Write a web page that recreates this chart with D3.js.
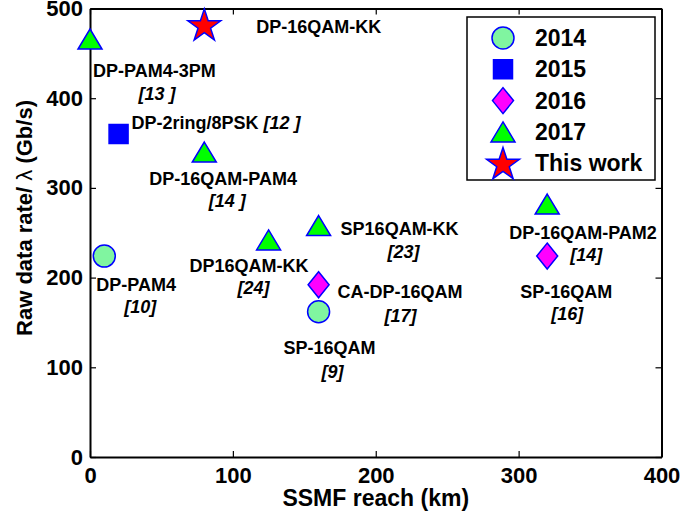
<!DOCTYPE html>
<html>
<head>
<meta charset="utf-8">
<script src="https://cdn.jsdelivr.net/npm/d3@7"></script>
<style>
  body { margin: 0; background: #fff; }
  svg text { font-family: "Liberation Sans", Arial, sans-serif; font-weight: bold; fill: #000; }
</style>
</head>
<body>
<div id="chart"></div>
<script>
// data
const years = ['2014', '2015', '2016', '2017', 'This work'];
const reach = [80, 0, 20, 80, 125, 10, 160, 320, 320, 160, 160];
const rate = [482, 466, 360, 340, 242, 224, 258, 282, 224, 192, 162];
const group = ['This work', '2017', '2015', '2017', '2017', '2014', '2017', '2017', '2016', '2016', '2014'];
const names = ['DP-16QAM-KK', 'DP-PAM4-3PM', 'DP-2ring/8PSK', 'DP-16QAM-PAM4', 'DP16QAM-KK', 'DP-PAM4',
  'SP16QAM-KK', 'DP-16QAM-PAM2', 'SP-16QAM', 'CA-DP-16QAM', 'SP-16QAM'];
const refs = ['', '[13 ]', '[12 ]', '[14 ]', '[24]', '[10]', '[23]', '[14]', '[16]', '[17]', '[9]'];
const xTicks = [0, 100, 200, 300, 400];
const yTicks = [0, 100, 200, 300, 400, 500];

// label placement (pixel offsets from the marker): name start, ref centre
const labelPos = [
  { nx: 52, ny: 8 },
  { nx: 3, ny: 38, rx: 67, ry: 61 },
  { nx: 13, ny: -5, inline: true },
  { nx: -55, ny: 33, rx: 23, ry: 55 },
  { nx: -79, ny: 32, rx: -15, ry: 54 },
  { nx: -8, ny: 35, rx: 36, ry: 57 },
  { nx: 22, ny: 9.5, rx: 85, ry: 32 },
  { nx: -38, ny: 35, rx: 39, ry: 57 },
  { nx: -27, ny: 42, rx: 20, ry: 64 },
  { nx: 19, ny: 13, rx: 82, ry: 37 },
  { nx: -35, ny: 42, rx: 14, ry: 66 }
];

const width = 681, height = 523;
const blue = '#0000ff';
const fills = { '2014': '#80f5a0', '2015': '#0000ff', '2016': '#ff00ff', '2017': '#00ff00', 'This work': '#ff0000' };

const svg = d3.select('#chart').append('svg')
  .attr('width', width)
  .attr('height', height);

const x = d3.scaleLinear().domain([0, 400]).range([90, 661.5]);
const y = d3.scaleLinear().domain([0, 500]).range([457, 8.5]);

function markerPath(kind) {
  if (kind === '2014') {
    const r = 11;
    return `M${r},0A${r},${r},0,1,1,${-r},0A${r},${r},0,1,1,${r},0Z`;
  }
  if (kind === '2015') return 'M-9.5,-9.5H9.5V9.5H-9.5Z';
  if (kind === '2016') return 'M0,-13L10.5,0L0,13L-10.5,0Z';
  if (kind === '2017') return 'M0,-10L12,10L-12,10Z';
  // star
  const R = 17.3, r = R * 0.382;
  const pts = d3.range(10).map(i => {
    const a = -Math.PI / 2 + i * Math.PI / 5;
    const rr = i % 2 ? r : R;
    return [rr * Math.cos(a), rr * Math.sin(a) + 1.5];
  });
  return 'M' + pts.map(p => p.join(',')).join('L') + 'Z';
}

// axes, MATLAB style box with inward ticks
const axisStyle = g => {
  g.select('.domain').attr('stroke-width', 2);
  g.selectAll('.tick line').attr('stroke-width', 1.2);
  g.selectAll('.tick text').style('font-size', '22px');
};

svg.append('g')
  .attr('transform', `translate(0,${y(0)})`)
  .call(d3.axisBottom(x).tickValues(xTicks).tickSize(-6).tickSizeOuter(0).tickPadding(10))
  .call(axisStyle);

svg.append('g')
  .attr('transform', `translate(${x(0)},0)`)
  .call(d3.axisLeft(y).tickValues(yTicks).tickSize(-6).tickSizeOuter(0).tickPadding(7))
  .call(axisStyle);

svg.append('g')
  .attr('transform', `translate(0,${y(500)})`)
  .call(d3.axisTop(x).tickValues(xTicks).tickSize(-6).tickSizeOuter(0).tickFormat(''))
  .call(axisStyle);

svg.append('g')
  .attr('transform', `translate(${x(400)},0)`)
  .call(d3.axisRight(y).tickValues(yTicks).tickSize(-6).tickSizeOuter(0).tickFormat(''))
  .call(axisStyle);

svg.selectAll('.domain').attr('stroke', '#000');

// axis titles
svg.append('text')
  .attr('x', (x(0) + x(400)) / 2)
  .attr('y', 506)
  .attr('text-anchor', 'middle')
  .style('font-size', '23px')
  .text('SSMF reach (km)');

const yTitle = svg.append('text')
  .attr('transform', 'translate(32,218) rotate(-90)')
  .attr('text-anchor', 'middle')
  .style('font-size', '22px');
yTitle.append('tspan').text('Raw data rate/ ');
yTitle.append('tspan').style('font-weight', 'normal').text('λ');
yTitle.append('tspan').text(' (Gb/s)');

// points
const pts = reach.map((r, i) => ({ px: x(r), py: y(rate[i]), kind: group[i], name: names[i], ref: refs[i], pos: labelPos[i] }));

svg.append('g')
  .selectAll('path')
  .data(pts)
  .join('path')
  .attr('transform', d => `translate(${d.px},${d.py})`)
  .attr('d', d => markerPath(d.kind))
  .attr('fill', d => fills[d.kind])
  .attr('stroke', blue)
  .attr('stroke-width', 1.5);

// labels
const labels = svg.append('g').style('font-size', '18px');
pts.forEach(d => {
  const t = labels.append('text')
    .attr('x', d.px + d.pos.nx)
    .attr('y', d.py + d.pos.ny)
    .text(d.name);
  if (d.pos.inline) {
    t.append('tspan').style('font-style', 'italic').text(' ' + d.ref);
  } else if (d.ref) {
    labels.append('text')
      .attr('x', d.px + d.pos.rx)
      .attr('y', d.py + d.pos.ry)
      .attr('text-anchor', 'middle')
      .style('font-style', 'italic')
      .text(d.ref);
  }
});

// legend
const legend = svg.append('g');
legend.append('rect')
  .attr('x', 467).attr('y', 17)
  .attr('width', 188).attr('height', 163)
  .attr('fill', '#fff')
  .attr('stroke', '#000')
  .attr('stroke-width', 1.5);

const rows = legend.selectAll('g.row')
  .data(years)
  .join('g')
  .attr('class', 'row')
  .attr('transform', (d, i) => `translate(0,${38 + i * 31.3})`);

rows.append('path')
  .attr('transform', 'translate(503,0)')
  .attr('d', d => markerPath(d))
  .attr('fill', d => fills[d])
  .attr('stroke', blue)
  .attr('stroke-width', 1.5);

rows.append('text')
  .attr('x', 535)
  .attr('y', 8)
  .style('font-size', '23px')
  .text(d => d);
</script>
</body>
</html>
